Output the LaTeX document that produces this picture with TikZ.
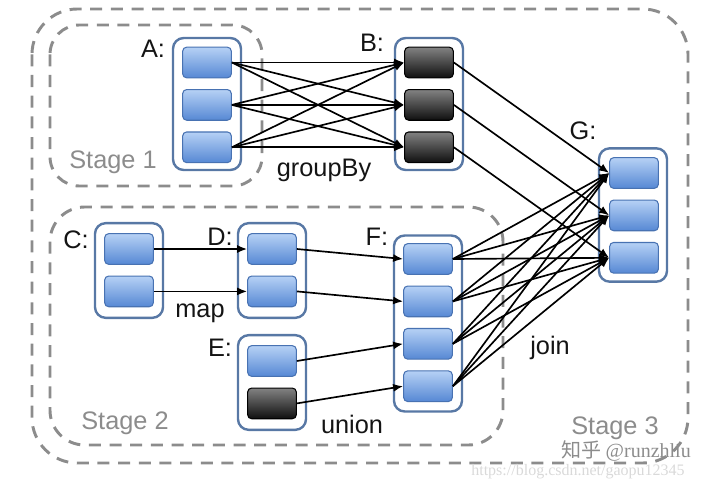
\documentclass[tikz,border=0pt]{standalone}
\usepackage{fontspec}
\setmainfont{Liberation Sans}
\newfontfamily\cjkfont{Noto Sans CJK SC}
\newfontfamily\markfont{Liberation Serif}
\usetikzlibrary{positioning,arrows.meta}
\definecolor{colorparttop}  {RGB}{182,209,245}
\definecolor{colorpartbot}  {RGB}{ 86,136,212}
\definecolor{colorpartline} {RGB}{ 72,114,178}
\definecolor{colordarktop}  {RGB}{130,130,130}
\definecolor{colordarkbot}  {RGB}{ 15, 15, 15}
\definecolor{colorrdd}      {RGB}{ 88,120,165}
\definecolor{colorstage}    {RGB}{140,140,140}
\definecolor{colortext}     {RGB}{ 20, 20, 20}

\begin{document}
\begin{tikzpicture}[
    x=0.75pt, y=-0.75pt,
    node distance = 8pt,
    font={\fontsize{19}{22}\selectfont},
    base/.style={text=colortext,inner sep=0pt},
    part/.style={rectangle,rounded corners=3pt,draw=colorpartline,line width=0.8pt,minimum width=36.5pt,minimum height=23pt,top color=colorparttop,bottom color=colorpartbot},
    darkpart/.style={part,draw=black,top color=colordarktop,bottom color=colordarkbot},
    rdd/.style={rectangle,rounded corners=8pt,draw=colorrdd,line width=1.8pt,fill=white,minimum width=51pt},
    stage/.style={draw=colorstage,line width=2.2pt,dash pattern=on 9pt off 6.5pt},
    stagetxt/.style={base,text=colorstage},
    flow/.style={-{Latex[length=7.5pt,width=6pt]},line width=1.25pt,black},
]
    \useasboundingbox (0,0) rectangle (720,478);

    % Stages
    \draw[stage,rounded corners=34pt] (32,9) rectangle (688,463);
    \draw[stage,rounded corners=22pt] (50,25) rectangle (262,186);
    \draw[stage,rounded corners=26pt] (50,207) rectangle (503,445);

    \node[stagetxt] (stage1) at (113,162) {Stage 1};
    \node[stagetxt] (stage2) at (125,423) {Stage 2};
    \node[stagetxt] (stage3) at (615,428) {Stage 3};

    % RDDs
    \node[rdd,minimum height=99pt]  (rddA) at (207,104)   {};
    \node[rdd,minimum height=99pt]  (rddB) at (429,104)   {};
    \node[rdd,minimum height=71pt]  (rddC) at (129,270.5) {};
    \node[rdd,minimum height=71pt]  (rddD) at (272,270.5) {};
    \node[rdd,minimum height=71pt]  (rddE) at (272,382.5) {};
    \node[rdd,minimum height=132pt] (rddF) at (428,323.5) {};
    \node[rdd,minimum height=100pt] (rddG) at (633,215)   {};

    \node[base] (labA) at (153,49)  {A:};
    \node[base] (labB) at (372,43)  {B:};
    \node[base] (labC) at (76,240)  {C:};
    \node[base] (labD) at (220,237) {D:};
    \node[base] (labE) at (220,348) {E:};
    \node[base] (labF) at (377,237) {F:};
    \node[base] (labG) at (583,131) {G:};

    % Partitions
    \node[part]               (a1) at (207,62.5) {};
    \node[part,below=of a1]   (a2) {};
    \node[part,below=of a2]   (a3) {};

    \node[darkpart]             (b1) at (429,62.5) {};
    \node[darkpart,below=of b1] (b2) {};
    \node[darkpart,below=of b2] (b3) {};

    \node[part]               (c1) at (129,249) {};
    \node[part,below=of c1]   (c2) {};

    \node[part]               (d1) at (272,249) {};
    \node[part,below=of d1]   (d2) {};

    \node[part]               (e1) at (272,361) {};
    \node[darkpart,below=of e1] (e2) {};

    \node[part]               (f1) at (428,259) {};
    \node[part,below=of f1]   (f2) {};
    \node[part,below=of f2]   (f3) {};
    \node[part,below=of f3]   (f4) {};

    \node[part]               (g1) at (634,173) {};
    \node[part,below=of g1]   (g2) {};
    \node[part,below=of g2]   (g3) {};

    % groupBy
    \draw[flow] (a1.east) -- (b1.west);
    \draw[flow] (a1.east) -- (b2.west);
    \draw[flow] (a1.east) -- (b3.west);
    \draw[flow] (a2.east) -- (b1.west);
    \draw[flow] (a2.east) -- (b2.west);
    \draw[flow] (a2.east) -- (b3.west);
    \draw[flow] (a3.east) -- (b1.west);
    \draw[flow] (a3.east) -- (b2.west);
    \draw[flow] (a3.east) -- (b3.west);

    % map
    \draw[flow] (c1.east) -- (d1.west);
    \draw[flow] (c2.east) -- (d2.west);

    % union
    \draw[flow] (d1.east) -- (f1.west);
    \draw[flow] (d2.east) -- (f2.west);
    \draw[flow] (e1.east) -- (f3.west);
    \draw[flow] (e2.east) -- (f4.west);

    % join
    \draw[flow] (b1.east) -- (g1.west);
    \draw[flow] (b2.east) -- (g2.west);
    \draw[flow] (b3.east) -- (g3.west);
    \draw[flow] (f1.east) -- (g1.west);
    \draw[flow] (f1.east) -- (g2.west);
    \draw[flow] (f1.east) -- (g3.west);
    \draw[flow] (f2.east) -- (g1.west);
    \draw[flow] (f2.east) -- (g2.west);
    \draw[flow] (f2.east) -- (g3.west);
    \draw[flow] (f3.east) -- (g1.west);
    \draw[flow] (f3.east) -- (g2.west);
    \draw[flow] (f3.east) -- (g3.west);
    \draw[flow] (f4.east) -- (g1.west);
    \draw[flow] (f4.east) -- (g2.west);
    \draw[flow] (f4.east) -- (g3.west);

    \node[base] (opgroup) at (324,170) {groupBy};
    \node[base] (opmap)   at (200,313) {map};
    \node[base] (opunion) at (352,424) {union};
    \node[base] (opjoin)  at (550,348) {join};

    % Watermark
    \node[base,text=black!45,font={\fontsize{15}{17}\selectfont}] (mark) at (626,451) {\cjkfont 知乎 \markfont @runzhliu};
    \node[base,text=black!15,font={\markfont\fontsize{12}{14}\selectfont}] (url) at (578,472) {https://blog.csdn.net/gaopu12345};

\end{tikzpicture}
\end{document}
